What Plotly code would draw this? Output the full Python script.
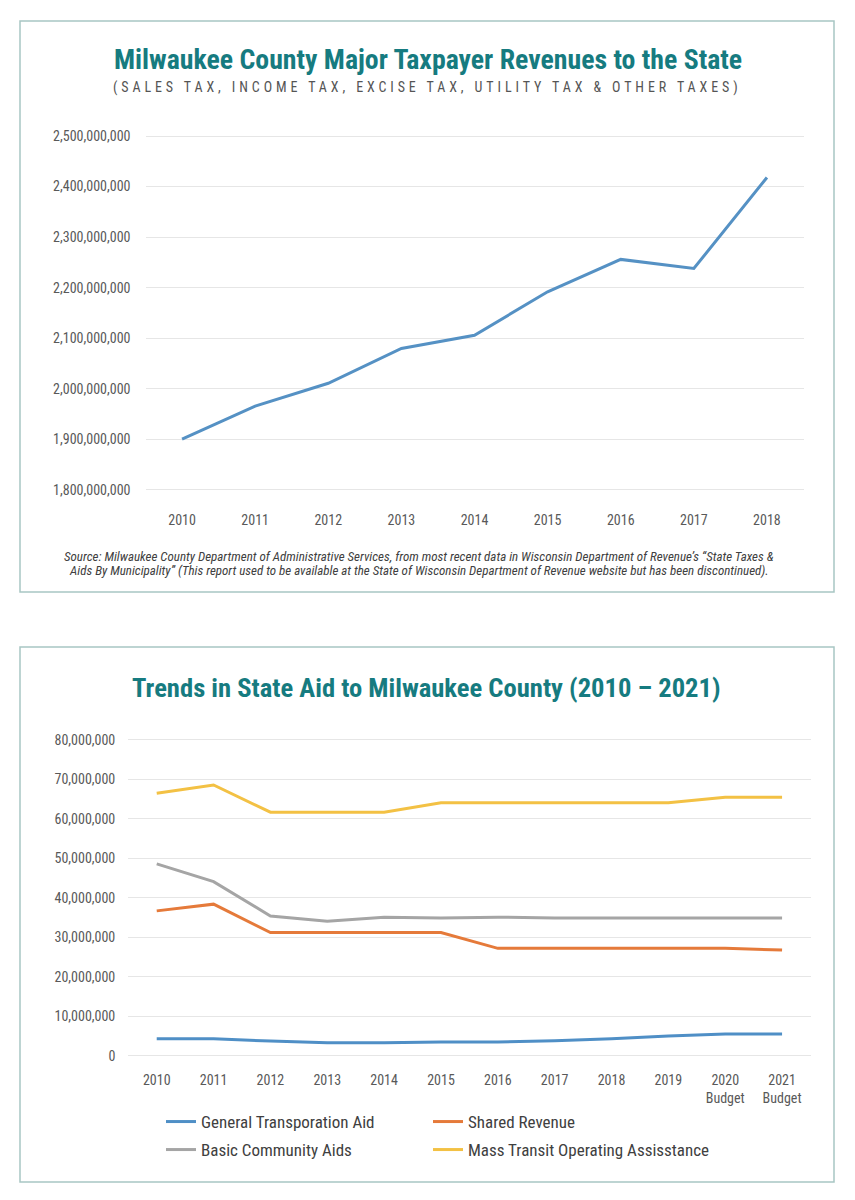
import plotly.graph_objects as go

# top chart: taxpayer revenues to the state
years_top = ["2010", "2011", "2012", "2013", "2014", "2015", "2016", "2017", "2018"]
revenues = [1_900_700_000, 1_966_000_000, 2_011_000_000, 2_080_000_000, 2_106_000_000,
            2_192_000_000, 2_256_000_000, 2_238_000_000, 2_418_000_000]

# bottom chart: state aid
years_aid = ["2010", "2011", "2012", "2013", "2014", "2015", "2016", "2017", "2018", "2019",
             "2020<br>Budget", "2021<br>Budget"]
transportation_aid = [4.3e6, 4.3e6, 3.7e6, 3.3e6, 3.3e6, 3.5e6, 3.5e6, 3.8e6, 4.3e6, 5.0e6, 5.5e6, 5.5e6]
shared_revenue = [36.7e6, 38.4e6, 31.2e6, 31.2e6, 31.2e6, 31.2e6, 27.2e6, 27.2e6, 27.2e6, 27.2e6, 27.2e6, 26.8e6]
community_aids = [48.6e6, 44.1e6, 35.4e6, 34.1e6, 35.1e6, 34.9e6, 35.1e6, 34.9e6, 34.9e6, 34.9e6, 34.9e6, 34.9e6]
mass_transit = [66.5e6, 68.6e6, 61.7e6, 61.7e6, 61.7e6, 64.1e6, 64.1e6, 64.1e6, 64.1e6, 64.1e6, 65.5e6, 65.5e6]

# the page body has an 8px margin, so the figure is a bit smaller than the window
OFF = 8
W, H = 855 - 2 * OFF, 1200 - 2 * OFF
TEAL = "#167b80"
COND = "Roboto Condensed, Roboto, sans-serif"


def px(x):
    return (x - OFF) / W


def py(y):
    return 1 - (y - OFF) / H


fig = go.Figure()

fig.add_trace(go.Scatter(
    x=years_top, y=revenues, mode="lines",
    line=dict(color="#5591c4", width=3),
    xaxis="x", yaxis="y", showlegend=False,
))

# one legend per entry so each sits where the reference puts it (x, y of the sample)
aid_series = [
    ("General Transporation Aid", transportation_aid, "#4f8fc6", "legend", 161, 1122),
    ("Shared Revenue", shared_revenue, "#e57a3a", "legend2", 428, 1122),
    ("Basic Community Aids", community_aids, "#a5a5a5", "legend3", 161, 1150),
    ("Mass Transit Operating Assisstance", mass_transit, "#f3c144", "legend4", 428, 1150),
]
legends = {}
for name, vals, color, leg, lx, ly in aid_series:
    fig.add_trace(go.Scatter(
        x=years_aid, y=vals, mode="lines", name=name,
        line=dict(color=color, width=3),
        xaxis="x2", yaxis="y2", legend=leg,
    ))
    legends[leg] = dict(
        x=px(lx), y=py(ly), xanchor="left", yanchor="middle",
        font=dict(family=COND, size=17, color="#404040"),
        bgcolor="rgba(0,0,0,0)", itemclick=False,
    )

tick_font = dict(family=COND, size=14, color="#595959")

fig.update_layout(
    width=W, height=H,
    margin=dict(l=0, r=0, t=0, b=0),
    paper_bgcolor="white", plot_bgcolor="white",
    xaxis=dict(domain=[px(145.5), px(803.5)], anchor="y", type="category",
               range=[-0.5, 8.5], showgrid=False, showline=False, ticks="",
               tickfont=tick_font, ticklabelstandoff=10),
    yaxis=dict(domain=[py(500.1), py(125.9)], anchor="x",
               range=[1_780_000_000, 2_520_000_000], dtick=100_000_000,
               tick0=0, tickformat=",d", showgrid=True, gridcolor="#e6e6e6",
               gridwidth=1, zeroline=False, showline=False, tickfont=tick_font,
               ticklabelstandoff=14),
    xaxis2=dict(domain=[px(128.3), px(810.5)], anchor="y2", type="category",
                range=[-0.5, 11.5], showgrid=False, showline=False, ticks="",
                tickfont=tick_font, ticklabelstandoff=6),
    yaxis2=dict(domain=[py(1063.6), py(732.1)], anchor="x2",
                range=[-2_000_000, 82_000_000], dtick=10_000_000,
                tickformat=",d", showgrid=True, gridcolor="#e6e6e6",
                gridwidth=1, zeroline=False, showline=False, tickfont=tick_font,
                ticklabelstandoff=12),
    **legends,
)

# panel borders
for y0, y1 in [(21, 592), (647, 1182)]:
    fig.add_shape(type="rect", xref="paper", yref="paper",
                  x0=px(20), x1=px(834), y0=py(y1), y1=py(y0),
                  line=dict(color="#a8c6c3", width=1.5), fillcolor="rgba(0,0,0,0)",
                  layer="below")


def note(text, x, y, size, color):
    fig.add_annotation(text=text, x=px(x), y=py(y), xref="paper", yref="paper",
                       xanchor="center", yanchor="middle", showarrow=False,
                       font=dict(family=COND, size=size, color=color))


note("<b>Milwaukee County Major Taxpayer Revenues to the State</b>", 427.5, 59, 27.8, TEAL)
note("<span style='letter-spacing:3.9px'>(SALES TAX, INCOME TAX, EXCISE TAX, UTILITY TAX &amp; OTHER TAXES)</span>",
     427, 87, 14, "#555555")
note("<i>Source: Milwaukee County Department of Administrative Services, from most recent data in Wisconsin Department of Revenue\u2019s \u201cState Taxes &amp;</i>",
     419, 556, 13, "#404040")
note("<i>Aids By Municipality\u201d (This report used to be available at the State of Wisconsin Department of Revenue website but has been discontinued).</i>",
     419, 570, 13, "#404040")
note("<b>Trends in State Aid to Milwaukee County (2010 \u2013 2021)</b>", 426, 687, 26.6, TEAL)

fig.write_html("out.html")
